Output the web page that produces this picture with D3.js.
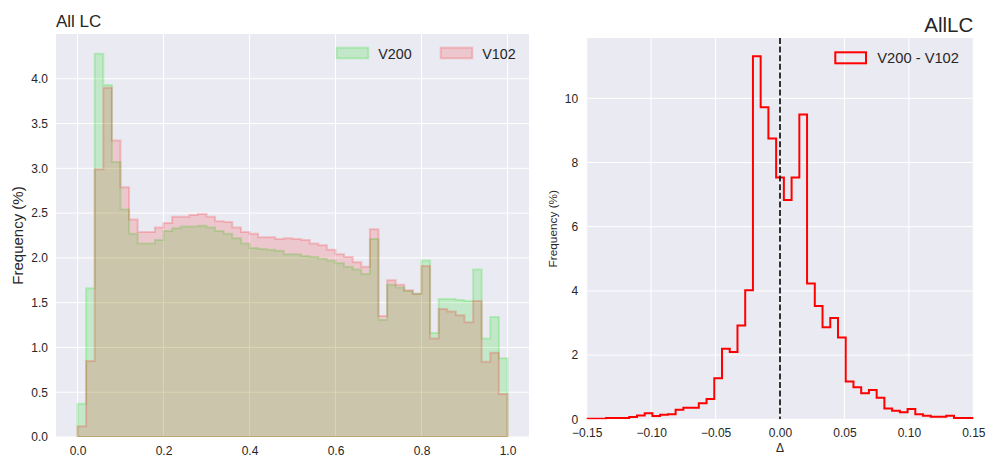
<!DOCTYPE html>
<html><head><meta charset="utf-8">
<script src="https://cdn.jsdelivr.net/npm/d3@7"></script>
<style>body{margin:0;background:#fff;} svg{display:block;font-family:"Liberation Sans",Arial,sans-serif;}</style>
</head><body><svg id="c" width="987" height="457"></svg>
<script>
// ---------- data ----------
const lcBinEdges = d3.range(51).map(i => +(i * 0.02).toFixed(2));
const v200 = [0.37, 1.66, 4.28, 3.93, 3.07, 2.54, 2.27, 2.16, 2.16, 2.20,
              2.30, 2.33, 2.35, 2.35, 2.36, 2.34, 2.30, 2.27, 2.22, 2.16,
              2.11, 2.10, 2.09, 2.08, 2.04, 2.04, 2.02, 2.01, 1.99, 1.97,
              1.94, 1.90, 1.87, 1.82, 2.21, 1.31, 1.70, 1.67, 1.63, 1.60,
              1.97, 1.16, 1.54, 1.54, 1.53, 1.52, 1.87, 1.10, 1.34, 0.88];
const v102 = [0.12, 0.85, 2.99, 3.90, 3.31, 2.79, 2.43, 2.29, 2.29, 2.34,
              2.39, 2.46, 2.46, 2.48, 2.49, 2.46, 2.41, 2.40, 2.34, 2.29,
              2.27, 2.23, 2.23, 2.21, 2.22, 2.21, 2.20, 2.16, 2.14, 2.09,
              2.04, 2.01, 1.95, 1.90, 2.32, 1.35, 1.75, 1.70, 1.64, 1.60,
              1.91, 1.10, 1.43, 1.40, 1.36, 1.28, 1.52, 0.84, 0.94, 0.48];
const lcXTicks = [0, 0.2, 0.4, 0.6, 0.8, 1.0];
const lcYTicks = [0, 0.5, 1.0, 1.5, 2.0, 2.5, 3.0, 3.5, 4.0];
const lcSeries = ["V200", "V102"];

const deltaBinEdges = d3.range(52).map(i => +(-0.153 + i * 0.006).toFixed(3));
const deltaFreq = [0.02, 0.02, 0.02, 0.04, 0.04, 0.04, 0.07, 0.12, 0.19, 0.10,
                   0.14, 0.16, 0.30, 0.36, 0.36, 0.50, 0.63, 1.28, 2.20, 2.10,
                   2.92, 4.02, 11.31, 9.72, 8.75, 7.53, 6.83, 7.53, 9.50, 4.23,
                   3.53, 2.87, 3.16, 2.55, 1.18, 1.00, 0.81, 0.91, 0.67, 0.34,
                   0.27, 0.22, 0.32, 0.16, 0.11, 0.08, 0.08, 0.11, 0.04, 0.04, 0.04];
const deltaXTicks = [-0.15, -0.10, -0.05, 0, 0.05, 0.10, 0.15];
const deltaYTicks = [0, 2, 4, 6, 8, 10];
const deltaLabel = "V200 - V102";

// ---------- helpers ----------
const svg = d3.select("#c");
const BG = "#EAEAF2", TXT = "#262626";

function stepPoints(edges, vals) {
  const pts = [[edges[0], 0]];
  vals.forEach((v, i) => { pts.push([edges[i], v]); pts.push([edges[i + 1], v]); });
  pts.push([edges[edges.length - 1], 0]);
  return pts;
}

function panel(id, x, y, xTicks, yTicks, xFmt, yFmt, opt) {
  const [x0, x1] = x.range(), [y0, y1] = y.range();
  const g = svg.append("g");
  g.append("rect").attr("x", x0).attr("y", y1).attr("width", x1 - x0).attr("height", y0 - y1).attr("fill", BG);
  g.append("clipPath").attr("id", id).append("rect")
    .attr("x", x0).attr("y", y1).attr("width", x1 - x0).attr("height", y0 - y1);
  g.append("g").selectAll("line").data(xTicks).join("line")
    .attr("x1", d => x(d)).attr("x2", d => x(d)).attr("y1", y1).attr("y2", y0)
    .attr("stroke", "#fff").attr("stroke-width", 1);
  g.append("g").selectAll("line").data(yTicks).join("line")
    .attr("y1", d => y(d)).attr("y2", d => y(d)).attr("x1", x0).attr("x2", x1)
    .attr("stroke", "#fff").attr("stroke-width", 1);
  const ax = g.append("g").attr("transform", `translate(0,${y0})`)
    .call(d3.axisBottom(x).tickValues(xTicks).tickFormat(xFmt).tickSize(0).tickPadding(opt.xPad));
  ax.select(".domain").remove();
  ax.selectAll("text").attr("fill", TXT).attr("font-size", opt.xFont).attr("font-family", "Liberation Sans, Arial, sans-serif");
  const ay = g.append("g").attr("transform", `translate(${x0},0)`)
    .call(d3.axisLeft(y).tickValues(yTicks).tickFormat(yFmt).tickSize(0).tickPadding(opt.yPad));
  ay.select(".domain").remove();
  ay.selectAll("text").attr("fill", TXT).attr("font-size", opt.yFont).attr("font-family", "Liberation Sans, Arial, sans-serif");
  const plot = g.append("g").attr("clip-path", `url(#${id})`);
  return { g, plot };
}

// ---------- left panel ----------
const xL = d3.scaleLinear([-0.05, 1.05], [56, 529]);
const yL = d3.scaleLinear([0, 4.5], [437, 34]);
const L = panel("clipL", xL, yL, lcXTicks, lcYTicks, d3.format(".1f"), d3.format(".1f"),
  { xPad: 9.5, yPad: 8, xFont: 12, yFont: 12 });
const lineL = d3.line().x(d => xL(d[0])).y(d => yL(d[1]));
const colors = { V200: "rgb(0,225,0)", V102: "rgb(255,0,0)" };
const alphas = { V200: 0.17, V102: 0.15 };
[[lcSeries[0], v200], [lcSeries[1], v102]].forEach(([name, vals]) => {
  L.plot.append("path").attr("d", lineL(stepPoints(lcBinEdges, vals)) + "Z")
    .attr("fill", colors[name]).attr("fill-opacity", alphas[name])
    .attr("stroke", colors[name]).attr("stroke-opacity", alphas[name] + 0.03).attr("stroke-width", 2)
    .attr("stroke-linejoin", "miter");
});
svg.append("text").attr("x", 56).attr("y", 26.5).attr("font-size", 17).attr("fill", TXT).text("All LC");
svg.append("text").attr("transform", "translate(23,235.5) rotate(-90)").attr("text-anchor", "middle")
  .attr("font-size", 15).attr("fill", TXT).text("Frequency (%)");
const legL = [{ name: lcSeries[0], px: 336.7 }, { name: lcSeries[1], px: 440.7 }];
legL.forEach(d => {
  svg.append("rect").attr("x", d.px).attr("y", 47.7).attr("width", 31.6).attr("height", 10.6)
    .attr("fill", colors[d.name]).attr("fill-opacity", alphas[d.name])
    .attr("stroke", colors[d.name]).attr("stroke-opacity", alphas[d.name] + 0.03).attr("stroke-width", 2);
  svg.append("text").attr("x", d.px + 41.6).attr("y", 58.5).attr("font-size", 14.3).attr("fill", TXT).text(d.name);
});

// ---------- right panel ----------
const xR = d3.scaleLinear([-0.15, 0.15], [586.7, 973.3]);
const yR = d3.scaleLinear([0, 11.88], [419.3, 38]);
const R = panel("clipR", xR, yR, deltaXTicks, deltaYTicks, d3.format(".2f"), d3.format("d"),
  { xPad: 9, yPad: 8.5, xFont: 12, yFont: 12 });
const lineR = d3.line().x(d => xR(d[0])).y(d => yR(d[1]));
R.plot.append("path").attr("d", lineR(stepPoints(deltaBinEdges, deltaFreq)))
  .attr("fill", "none").attr("stroke", "red").attr("stroke-width", 2).attr("stroke-linejoin", "miter");
R.plot.append("line").attr("x1", xR(0)).attr("x2", xR(0)).attr("y1", 38).attr("y2", 419.3)
  .attr("stroke", "#000").attr("stroke-width", 1.6).attr("stroke-dasharray", "6,2.6");
svg.append("text").attr("x", 973.3).attr("y", 32.3).attr("text-anchor", "end").attr("font-size", 20.5)
  .attr("fill", TXT).text("AllLC");
svg.append("text").attr("transform", "translate(556.5,228.7) rotate(-90)").attr("text-anchor", "middle")
  .attr("font-size", 11.8).attr("fill", TXT).text("Frequency (%)");
svg.append("text").attr("x", xR(0)).attr("y", 452).attr("text-anchor", "middle").attr("font-size", 12)
  .attr("fill", TXT).text("Δ");
svg.append("rect").attr("x", 835.3).attr("y", 52.3).attr("width", 30.7).attr("height", 11)
  .attr("fill", "none").attr("stroke", "red").attr("stroke-width", 2);
svg.append("text").attr("x", 877.3).attr("y", 63.3).attr("font-size", 14.7).attr("fill", TXT).text(deltaLabel);
</script>
</body></html>
